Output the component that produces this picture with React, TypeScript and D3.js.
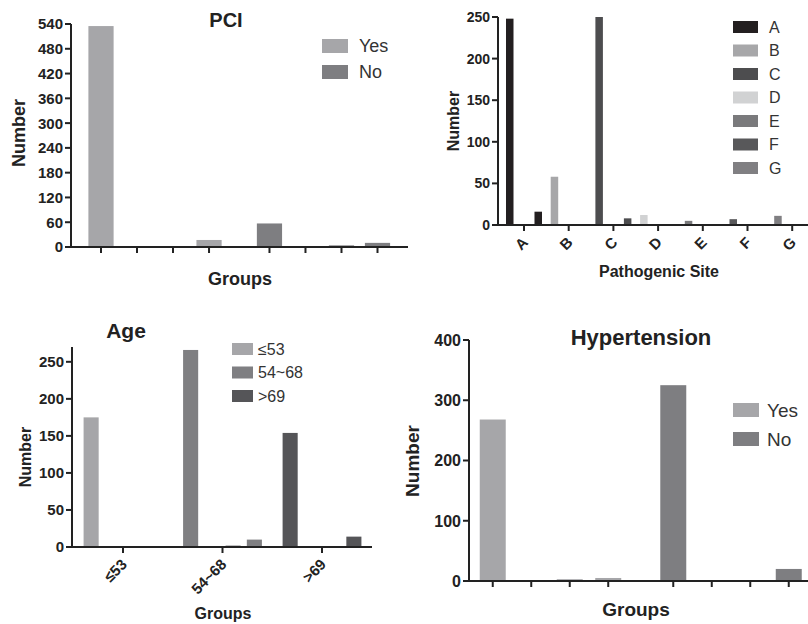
import React from "react";
import * as d3 from "d3";

const FONT = "'Liberation Sans', Arial, Helvetica, sans-serif";
const INK = "#222";

// ---------- data ----------
const subSlots = [0, 1, 2, 3];

const pciGroups = ["Yes", "No"];
const pciValues = [
  [535, 0, 0, 17],
  [57, 0, 4, 10],
];
const pciColors = ["#a6a6a9", "#7e7e81"];
const pciTicks = [0, 60, 120, 180, 240, 300, 360, 420, 480, 540];

const siteNames = ["A", "B", "C", "D", "E", "F", "G"];
const siteValues = [
  [248, 0, 1, 16],
  [58, 0, 0, 0],
  [250, 0, 1, 8],
  [12, 0, 0, 1],
  [5, 0, 0, 0],
  [7, 0, 0, 0],
  [11, 0, 0, 0],
];
const siteColors = ["#231f20", "#a7a7a9", "#4d4d4f", "#d1d2d3", "#7a7a7c", "#58585a", "#807f82"];
const siteTicks = [0, 50, 100, 150, 200, 250];

const ageGroups = ["≤53", "54~68", ">69"];
const ageValues = [
  [175, 0, 0, 1],
  [266, 0, 2, 10],
  [154, 1, 0, 14],
];
const ageColors = ["#a6a6a9", "#7f7f82", "#555558"];
const ageTicks = [0, 50, 100, 150, 200, 250];

const htnGroups = ["Yes", "No"];
const htnValues = [
  [268, 0, 3, 5],
  [325, 1, 0, 20],
];
const htnColors = ["#a6a6a9", "#7e7e81"];
const htnTicks = [0, 100, 200, 300, 400];

// ---------- panel ----------
type PanelProps = {
  groups: string[];
  values: number[][];
  colors: string[];
  yMax: number;
  yTicks: number[];
  axisX: number;
  yBottom: number;
  yTop: number;
  xEnd: number;
  band: [number, number];
  padInner: number;
  subPad: number;
  tickMode: "sub" | "cat";
  catLabels: boolean;
  catLabelSize?: number;
  tickSize: number;
  title?: { text: string; x: number; y: number; size: number };
  legend: { x: number; y: number; dy: number; w: number; h: number; tx: number; size: number };
  xLabel: { text: string; x: number; y: number; size: number };
  yLabel: { x: number; y: number; size: number };
};

function Panel(p: PanelProps) {
  const y = d3.scaleLinear().domain([0, p.yMax]).range([p.yBottom, p.yTop]);
  const x0 = d3.scaleBand<string>().domain(p.groups).range(p.band).paddingInner(p.padInner).paddingOuter(0);
  const x1 = d3
    .scaleBand<number>()
    .domain(subSlots)
    .range([0, x0.bandwidth()])
    .paddingInner(p.subPad)
    .paddingOuter(p.subPad / 2);

  const xTicks: number[] = [];
  p.groups.forEach((g) => {
    if (p.tickMode === "sub") {
      subSlots.forEach((s) => xTicks.push((x0(g) as number) + (x1(s) as number) + x1.bandwidth() / 2));
    } else {
      xTicks.push((x0(g) as number) + x0.bandwidth() / 2);
    }
  });

  return (
    <g>
      {/* bars */}
      {p.groups.map((g, gi) =>
        subSlots.map((s) => {
          const v = p.values[gi][s];
          if (!v) return null;
          return (
            <rect
              key={g + s}
              x={(x0(g) as number) + (x1(s) as number)}
              width={x1.bandwidth()}
              y={y(v)}
              height={p.yBottom - y(v)}
              fill={p.colors[gi]}
            />
          );
        })
      )}
      {/* y axis */}
      <line x1={p.axisX} x2={p.axisX} y1={p.yBottom} y2={y(p.yMax)} stroke={INK} strokeWidth={2} />
      {p.yTicks.map((t) => (
        <g key={t}>
          <line x1={p.axisX - 6} x2={p.axisX} y1={y(t)} y2={y(t)} stroke={INK} strokeWidth={2} />
          <text
            x={p.axisX - 8}
            y={y(t)}
            dy="0.36em"
            textAnchor="end"
            fontFamily={FONT}
            fontWeight="bold"
            fontSize={p.tickSize}
            fill={INK}
          >
            {t}
          </text>
        </g>
      ))}
      {/* x axis */}
      <line x1={p.axisX - 1} x2={p.xEnd} y1={p.yBottom} y2={p.yBottom} stroke={INK} strokeWidth={2} />
      {xTicks.map((t, i) => (
        <line key={i} x1={t} x2={t} y1={p.yBottom} y2={p.yBottom + 6} stroke={INK} strokeWidth={2} />
      ))}
      {p.catLabels &&
        p.groups.map((g, i) => (
          <text
            key={g}
            transform={`translate(${xTicks[i] - 2.5},${p.yBottom + 11}) rotate(-45)`}
            textAnchor="end"
            dy="0.7em"
            fontFamily={FONT}
            fontWeight="bold"
            fontSize={p.catLabelSize || 14}
            fill={INK}
          >
            {g}
          </text>
        ))}
      {/* title */}
      {p.title && (
        <text
          x={p.title.x}
          y={p.title.y}
          textAnchor="middle"
          fontFamily={FONT}
          fontWeight="bold"
          fontSize={p.title.size}
          fill={INK}
        >
          {p.title.text}
        </text>
      )}
      {/* axis labels */}
      <text
        x={p.xLabel.x}
        y={p.xLabel.y}
        textAnchor="middle"
        fontFamily={FONT}
        fontWeight="bold"
        fontSize={p.xLabel.size}
        fill={INK}
      >
        {p.xLabel.text}
      </text>
      <text
        transform={`translate(${p.yLabel.x},${p.yLabel.y}) rotate(-90)`}
        textAnchor="middle"
        dy="0.36em"
        fontFamily={FONT}
        fontWeight="bold"
        fontSize={p.yLabel.size}
        fill={INK}
      >
        Number
      </text>
      {/* legend */}
      {p.groups.map((g, i) => (
        <g key={"lg" + g}>
          <rect
            x={p.legend.x}
            y={p.legend.y + i * p.legend.dy}
            width={p.legend.w}
            height={p.legend.h}
            fill={p.colors[i]}
          />
          <text
            x={p.legend.tx}
            y={p.legend.y + i * p.legend.dy + p.legend.h / 2}
            dy="0.36em"
            fontFamily={FONT}
            fontSize={p.legend.size}
            fill="#333"
          >
            {g}
          </text>
        </g>
      ))}
    </g>
  );
}

export default function App() {
  return (
    <svg
      width={808}
      height={624}
      viewBox="0 0 808 624"
      style={{ position: "absolute", left: 0, top: 0, background: "#fff" }}
    >
      <rect width={808} height={624} fill="#fff" />
      <Panel
        groups={pciGroups}
        values={pciValues}
        colors={pciColors}
        yMax={540}
        yTicks={pciTicks}
        axisX={71}
        yBottom={247}
        yTop={24}
        xEnd={408}
        band={[83, 395.5]}
        padInner={0.145}
        subPad={0.3}
        tickMode="sub"
        catLabels={false}
        tickSize={15}
        title={{ text: "PCI", x: 226, y: 27, size: 20 }}
        legend={{ x: 322, y: 39, dy: 26, w: 26, h: 14, tx: 359, size: 18 }}
        xLabel={{ text: "Groups", x: 240, y: 285, size: 18 }}
        yLabel={{ x: 19, y: 133, size: 18 }}
      />
      <Panel
        groups={siteNames}
        values={siteValues}
        colors={siteColors}
        yMax={250}
        yTicks={siteTicks}
        axisX={498}
        yBottom={225}
        yTop={17}
        xEnd={808}
        band={[505, 811.2]}
        padInner={0.15}
        subPad={0.21}
        tickMode="cat"
        catLabels={true}
        catLabelSize={15}
        tickSize={14}
        legend={{ x: 733, y: 21, dy: 23.5, w: 25, h: 12, tx: 769, size: 16 }}
        xLabel={{ text: "Pathogenic Site", x: 659, y: 277, size: 16 }}
        yLabel={{ x: 453, y: 121, size: 16 }}
      />
      <Panel
        groups={ageGroups}
        values={ageValues}
        colors={ageColors}
        yMax={270}
        yTicks={ageTicks}
        axisX={72}
        yBottom={547}
        yTop={347}
        xEnd={372}
        band={[80.5, 364.5]}
        padInner={0.146}
        subPad={0.29}
        tickMode="cat"
        catLabels={true}
        catLabelSize={15}
        tickSize={15}
        title={{ text: "Age", x: 126, y: 338, size: 21 }}
        legend={{ x: 232, y: 343, dy: 23.5, w: 21, h: 12, tx: 258, size: 16 }}
        xLabel={{ text: "Groups", x: 223, y: 619, size: 16 }}
        yLabel={{ x: 25, y: 457, size: 16 }}
      />
      <Panel
        groups={htnGroups}
        values={htnValues}
        colors={htnColors}
        yMax={400}
        yTicks={htnTicks}
        axisX={469}
        yBottom={581}
        yTop={340}
        xEnd={808}
        band={[473.5, 808]}
        padInner={0.147}
        subPad={0.325}
        tickMode="sub"
        catLabels={false}
        tickSize={16}
        title={{ text: "Hypertension", x: 641, y: 345, size: 22 }}
        legend={{ x: 733, y: 403, dy: 29, w: 26, h: 14, tx: 767, size: 19 }}
        xLabel={{ text: "Groups", x: 636, y: 616, size: 19 }}
        yLabel={{ x: 412, y: 461, size: 19 }}
      />
    </svg>
  );
}
